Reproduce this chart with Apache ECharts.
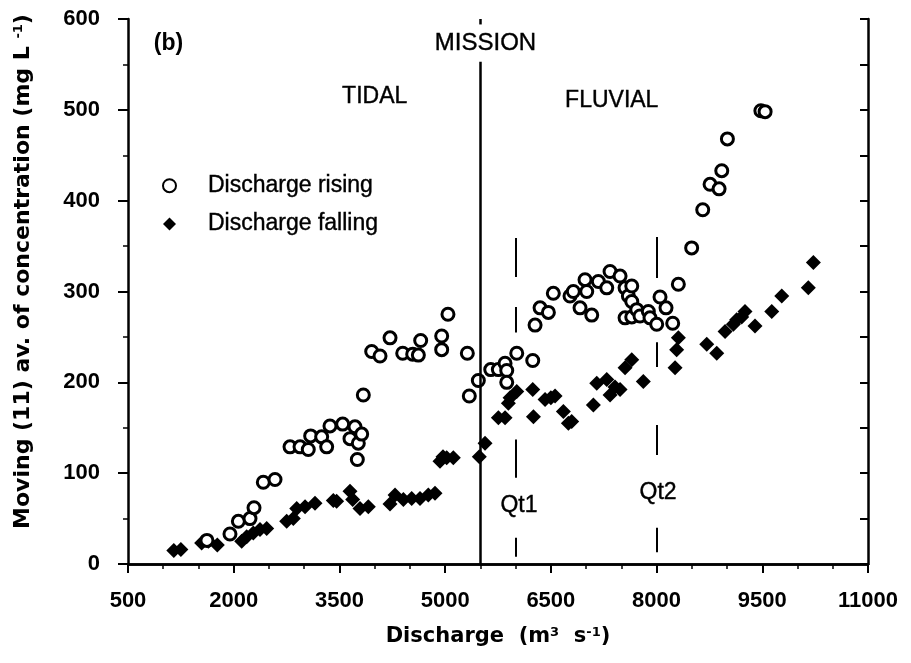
<!DOCTYPE html>
<html><head><meta charset="utf-8">
<script src="https://cdn.jsdelivr.net/npm/echarts@6/dist/echarts.min.js"></script>
<style>html,body{margin:0;padding:0;background:#fff}#c{width:911px;height:663px}</style>
</head><body><div id="c"></div>
<script>
// ---- Data ----
const risingDischarge = [1620,1947,2066,2231,2288,2420,2586,2799,2941,3058,3092,3248,3319,3366,3546,3650,3721,3754,3768,3816,3839,3958,4076,4218,4398,4540,4620,4653,4951,4951,5040,5315,5343,5471,5647,5755,5850,5874,5874,6016,6243,6276,6347,6465,6535,6772,6819,6914,6985,7009,7080,7174,7293,7340,7482,7553,7553,7600,7648,7648,7648,7719,7765,7883,7907,8002,8049,8134,8229,8309,8498,8655,8759,8887,8925,9005,9480,9540];
const risingConc      = [26,33,47,50,62,90,93,129,129,126,141,140,129,152,154,138,151,115,133,143,186,234,229,249,232,231,230,246,251,236,275,232,185,202,214,214,221,213,200,232,224,263,282,277,298,295,300,282,313,300,274,311,304,322,317,304,271,295,306,289,272,280,273,278,271,264,294,282,265,308,348,390,418,413,433,468,499,498];
const fallingDischarge = [1150,1250,1545,1640,1767,2113,2184,2278,2373,2468,2752,2846,2894,3012,3153,3413,3460,3650,3688,3792,3910,4218,4289,4407,4525,4643,4761,4856,4927,4970,5022,5116,5485,5566,5755,5850,5897,5921,6016,6243,6253,6418,6500,6560,6678,6749,6796,7103,7151,7293,7340,7410,7482,7553,7648,7812,8262,8285,8309,8712,8854,8972,9090,9137,9208,9255,9397,9634,9776,10153,10225];
const fallingConc      = [15,16,23,25,21,25,30,34,38,39,47,50,61,63,67,70,69,80,71,61,63,66,76,71,72,72,76,78,113,118,117,117,118,133,161,161,177,183,190,192,162,181,183,185,168,155,157,175,199,203,186,195,192,216,225,201,216,236,249,242,232,256,264,269,272,278,262,278,295,304,332];
const seriesNames = ['Discharge rising', 'Discharge falling'];
// axis ranges
const xMin = 500, xMax = 11000, xStep = 1500;
const yMin = 0, yMax = 600, yStep = 100;
// reference lines (discharge, [from, to] concentration ranges)
const missionX = 5500;
const missionSegments = [[0, 553], [594, 600]];
const qt1X = 6000;
const qt1Segments = [[359, 316], [283, 255], [137, 95], [29, 8]];
const qt2X = 8000;
const qt2Segments = [[360, 315], [244, 217], [153, 120], [40, 13]];
// annotations: [discharge, concentration, text, bold]
const annotations = [
  [1075, 573, '(b)', true],
  [5573, 573, 'MISSION', false],
  [4000, 514, 'TIDAL', false],
  [7364, 510, 'FLUVIAL', false],
  [6048, 64, 'Qt1', false],
  [8021, 79, 'Qt2', false]
];

// ---- Build ----
const FONT = 'Liberation Sans';
const TITLE_FONT = 'DejaVu Sans';
const zip = (a, b) => a.map((v, i) => [v, b[i]]);
const segs = (x, list) => list.map(s => [{coord: [x, s[0]]}, {coord: [x, s[1]]}]);

const chart = echarts.init(document.getElementById('c'), null, {renderer: 'canvas'});
const axisLineStyle = {color: '#000', width: 2.5};
const supStyle = {fontFamily: TITLE_FONT, fontSize: 13, fontWeight: 'bold', color: '#000', verticalAlign: 'top', lineHeight: 13};
chart.setOption({
  backgroundColor: '#fff',
  animation: false,
  grid: {left: 128, right: 43, top: 19, bottom: 99},
  legend: {
    data: seriesNames,
    orient: 'vertical', left: 157, top: 169,
    itemWidth: 13, itemHeight: 13, itemGap: 15,
    textStyle: {fontFamily: FONT, fontSize: 23, color: '#000', padding: [0, 0, 0, 27],
      textBorderColor: '#000', textBorderWidth: 0.4}
  },
  xAxis: [{
    type: 'value', min: xMin, max: xMax, interval: xStep, position: 'bottom',
    axisLine: {lineStyle: axisLineStyle},
    axisTick: {show: true, inside: false, length: 9, lineStyle: {color: '#000', width: 2}},
    minorTick: {show: true, splitNumber: 3, length: 5, lineStyle: {color: '#000', width: 1.5}},
    splitLine: {show: false},
    axisLabel: {margin: 26, fontFamily: FONT, fontSize: 22, fontWeight: 'bold', color: '#000', formatter: v => String(v)},
    name: 'Discharge  (m{sup|3}  s{sup|-1})',
    nameLocation: 'middle', nameGap: 62,
    nameTextStyle: {
      fontFamily: TITLE_FONT, fontSize: 21, fontWeight: 'bold', color: '#000',
      rich: {sup: supStyle}
    }
  }, {
    type: 'value', min: xMin, max: xMax, position: 'top',
    axisLine: {lineStyle: axisLineStyle},
    axisTick: {show: false}, axisLabel: {show: false}, splitLine: {show: false}
  }],
  yAxis: [{
    type: 'value', min: yMin, max: yMax, interval: yStep, position: 'left',
    axisLine: {lineStyle: axisLineStyle},
    axisTick: {show: true, inside: false, length: 10, lineStyle: {color: '#000', width: 2}},
    minorTick: {show: true, splitNumber: 2, length: 5, lineStyle: {color: '#000', width: 1.5}},
    splitLine: {show: false},
    axisLabel: {margin: 28, fontFamily: FONT, fontSize: 22, fontWeight: 'bold', color: '#000', formatter: v => String(v)},
    name: 'Moving (11) av. of concentration (mg L {sup|-1})',
    nameLocation: 'middle', nameGap: 94,
    nameTextStyle: {
      fontFamily: TITLE_FONT, fontSize: 22, fontWeight: 'bold', color: '#000', padding: [0, 0, 0, 40],
      rich: {sup: supStyle}
    }
  }, {
    type: 'value', min: yMin, max: yMax, interval: yStep / 2, position: 'right',
    axisLine: {lineStyle: axisLineStyle},
    axisTick: {show: true, inside: true, length: 8, lineStyle: {color: '#000', width: 2}},
    axisLabel: {show: false}, splitLine: {show: false}
  }],
  series: [{
    name: seriesNames[0], type: 'scatter', xAxisIndex: 0, yAxisIndex: 0,
    symbol: 'circle', symbolSize: 12, z: 4,
    itemStyle: {color: '#fff', borderColor: '#000', borderWidth: 3, opacity: 1},
    data: zip(risingDischarge, risingConc)
  }, {
    name: seriesNames[1], type: 'scatter', xAxisIndex: 0, yAxisIndex: 0,
    symbol: 'diamond', symbolSize: 15, z: 3,
    itemStyle: {color: '#000', opacity: 1},
    data: zip(fallingDischarge, fallingConc)
  }, {
    name: 'lines', type: 'line', xAxisIndex: 0, yAxisIndex: 0, data: [], z: 2,
    markLine: {
      silent: true, symbol: ['none', 'none'], animation: false,
      label: {show: false},
      lineStyle: {color: '#000', width: 2.5, type: 'solid', opacity: 1},
      data: segs(missionX, missionSegments).concat(
        segs(qt1X, qt1Segments).map(d => [Object.assign({lineStyle: {width: 2}}, d[0]), d[1]]),
        segs(qt2X, qt2Segments).map(d => [Object.assign({lineStyle: {width: 2}}, d[0]), d[1]])
      )
    }
  }, {
    name: 'annotations', type: 'scatter', xAxisIndex: 0, yAxisIndex: 0, z: 5,
    symbolSize: 1, silent: true,
    itemStyle: {opacity: 1, color: 'rgba(0,0,0,0)'},
    data: annotations.map(a => ({
      value: [a[0], a[1]],
      label: {
        show: true, position: 'inside', formatter: a[2],
        fontFamily: FONT, fontSize: a[2] === 'MISSION' ? 24 : 23, fontWeight: a[3] ? 'bold' : 'normal',
        color: '#000', opacity: 1, textBorderColor: '#000', textBorderWidth: a[3] ? 0 : 0.4
      }
    }))
  }]
});
</script></body></html>
